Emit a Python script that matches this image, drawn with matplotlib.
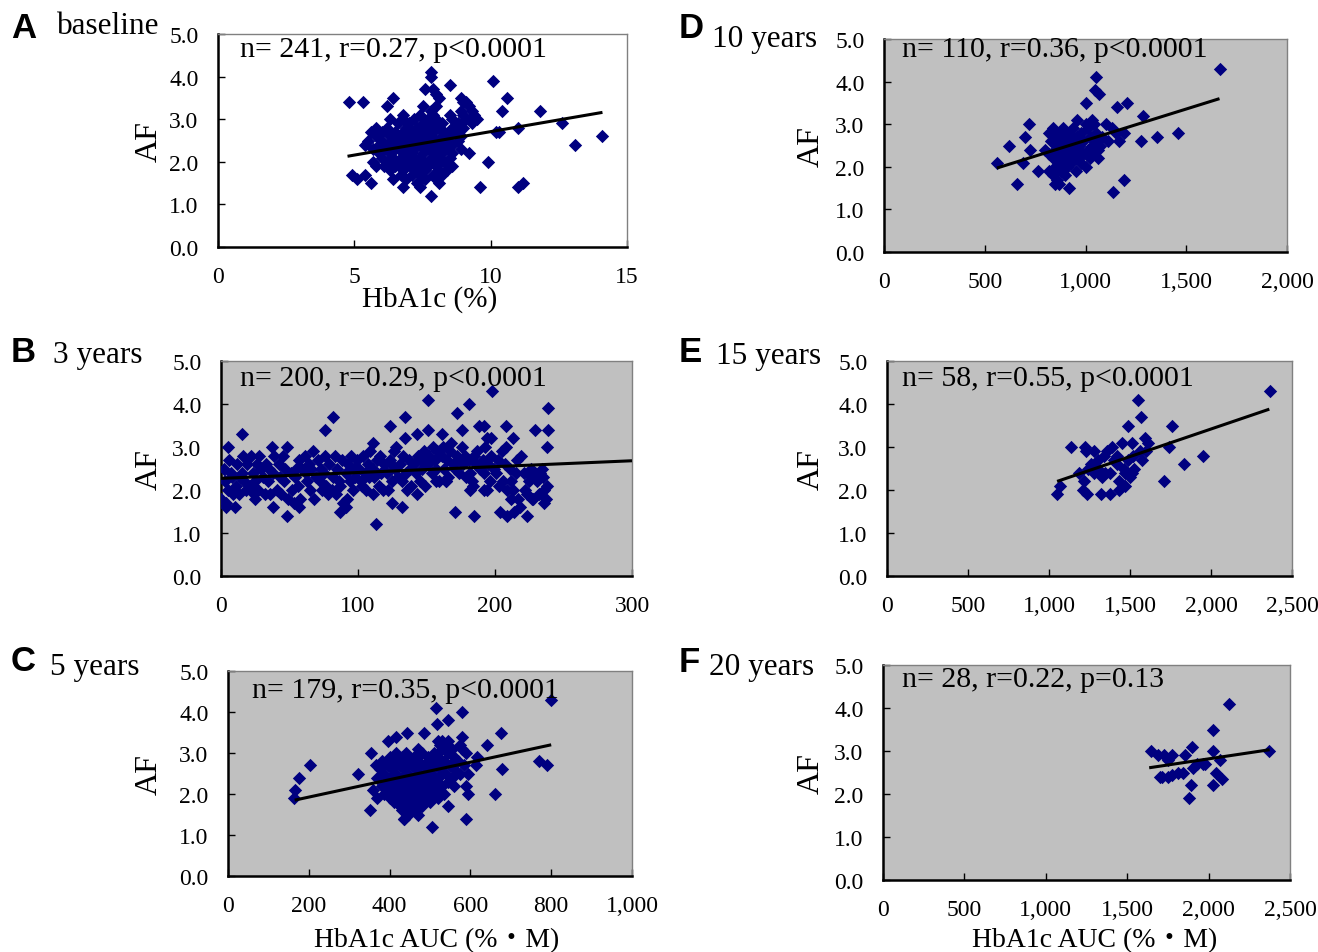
import matplotlib
matplotlib.use('Agg')
import matplotlib.pyplot as plt
from matplotlib.ticker import FuncFormatter, MultipleLocator

W, H = 1318, 953

# ---- A: baseline (HbA1c %, AF)
a_pts = [
    (7.8, 4.1), (7.8, 4.0), (10.1, 3.9), (8.5, 3.8), (7.6, 3.7), (7.9, 3.7), (8.0, 3.6),
    (6.4, 3.5), (8.1, 3.5), (8.9, 3.5), (10.6, 3.5),
    (4.8, 3.4), (5.3, 3.4), (9.0, 3.4), (9.1, 3.4),
    (6.2, 3.3), (7.5, 3.3), (8.0, 3.3), (9.2, 3.3),
    (7.8, 3.2), (8.9, 3.2), (10.4, 3.2), (11.8, 3.2), (9.3, 3.2),
    (6.8, 3.1), (7.4, 3.1), (8.5, 3.1), (9.4, 3.1), (9.0, 3.1), (7.9, 3.1),
    (6.3, 3.0), (6.8, 3.0), (7.2, 3.0), (7.7, 3.0), (8.0, 3.0), (8.6, 3.0), (9.5, 3.0), (9.1, 3.0),
    (6.6, 2.9), (7.0, 2.9), (7.5, 2.9), (8.2, 2.9), (8.8, 2.9), (9.3, 2.9), (12.6, 2.9), (7.9, 2.9),
    (5.8, 2.8), (6.2, 2.8), (6.9, 2.8), (7.3, 2.8), (7.7, 2.8), (8.1, 2.8), (8.6, 2.8), (9.0, 2.8),
    (11.0, 2.8), (7.0, 2.8),
    (5.6, 2.7), (6.0, 2.7), (6.5, 2.7), (7.1, 2.7), (7.6, 2.7), (7.9, 2.7), (8.3, 2.7), (8.7, 2.7),
    (10.2, 2.7), (10.3, 2.7), (6.8, 2.7),
    (5.8, 2.6), (6.3, 2.6), (6.7, 2.6), (7.0, 2.6), (7.4, 2.6), (7.8, 2.6), (8.2, 2.6), (8.5, 2.6),
    (8.9, 2.6), (14.1, 2.6), (7.2, 2.6),
    (5.5, 2.5), (6.0, 2.5), (6.4, 2.5), (6.9, 2.5), (7.3, 2.5), (7.7, 2.5), (8.0, 2.5), (8.4, 2.5),
    (8.8, 2.5), (6.6, 2.5), (7.5, 2.5),
    (5.4, 2.4), (5.9, 2.4), (6.2, 2.4), (6.6, 2.4), (7.0, 2.4), (7.4, 2.4), (7.8, 2.4), (8.1, 2.4),
    (8.6, 2.4), (13.1, 2.4), (7.2, 2.4),
    (5.7, 2.3), (6.1, 2.3), (6.5, 2.3), (6.9, 2.3), (7.2, 2.3), (7.6, 2.3), (8.0, 2.3), (8.3, 2.3),
    (8.9, 2.3), (6.7, 2.3),
    (5.9, 2.2), (6.3, 2.2), (6.8, 2.2), (7.1, 2.2), (7.5, 2.2), (7.9, 2.2), (8.2, 2.2), (8.6, 2.2),
    (9.2, 2.2), (7.0, 2.2),
    (6.0, 2.1), (6.4, 2.1), (6.7, 2.1), (7.0, 2.1), (7.4, 2.1), (7.8, 2.1), (8.1, 2.1), (8.5, 2.1), (7.2, 2.1),
    (5.7, 2.0), (6.2, 2.0), (6.6, 2.0), (7.1, 2.0), (7.5, 2.0), (7.9, 2.0), (8.3, 2.0), (9.9, 2.0), (6.9, 2.0),
    (5.8, 1.9), (6.1, 1.9), (6.5, 1.9), (6.9, 1.9), (7.3, 1.9), (7.7, 1.9), (8.0, 1.9), (8.6, 1.9),
    (6.3, 1.8), (6.8, 1.8), (7.2, 1.8), (7.6, 1.8), (8.1, 1.8), (8.4, 1.8),
    (4.9, 1.7), (5.4, 1.7), (6.7, 1.7), (7.1, 1.7), (7.4, 1.7), (7.9, 1.7), (8.2, 1.7),
    (5.1, 1.6), (6.4, 1.6), (6.9, 1.6), (7.6, 1.6), (8.0, 1.6),
    (5.6, 1.5), (7.3, 1.5), (8.1, 1.5), (11.2, 1.5),
    (6.8, 1.4), (7.4, 1.4), (9.6, 1.4), (11.0, 1.4),
    (7.8, 1.2),
]
a_fit_x = [4.75, 14.1]
a_fit_y = [2.13, 3.16]

# ---- B: 3 years
b_pts = [
    (151, 4.1), (198, 4.3), (181, 4.0), (239, 3.9), (172, 3.8), (82, 3.7), (134, 3.7),
    (76, 3.4), (123, 3.5), (151, 3.4), (176, 3.4), (188, 3.5), (192, 3.5), (208, 3.5),
    (229, 3.4), (239, 3.4), (15, 3.3), (143, 3.3), (161, 3.3), (213, 3.2), (194, 3.2),
    (134, 3.2), (238, 3.0), (5, 3.0), (111, 3.1), (168, 3.1), (197, 3.2),
    (113, 1.2), (48, 1.4), (185, 1.4), (223, 1.4), (209, 1.4), (171, 1.5), (87, 1.5),
    (204, 1.5), (214, 1.5), (132, 1.6), (10, 1.6), (4, 1.6), (38, 1.6), (57, 1.6), (91, 1.6),
    (125, 1.7), (236, 1.7), (227, 1.8), (212, 1.8), (111, 1.9), (143, 1.9), (192, 2.0),
    (182, 2.0), (238, 2.1), (157, 2.2), (164, 2.2), (25, 1.8),
    (0, 1.8), (2, 2.5), (3, 2.2), (5, 2.0), (6, 2.7), (8, 2.3), (9, 1.9), (4, 1.7), (7, 2.4),
    (11, 2.1), (12, 2.6), (13, 1.9), (15, 2.4), (16, 2.8), (17, 2.2), (18, 2.0), (19, 2.6), (14, 2.3),
    (21, 2.1), (22, 2.8), (23, 2.4), (25, 2.2), (26, 2.6), (27, 2.0), (28, 2.8), (29, 2.5), (24, 1.9),
    (31, 2.3), (32, 1.9), (33, 2.6), (34, 2.2), (35, 2.5), (36, 1.9), (37, 3.0), (38, 2.4), (39, 2.8),
    (41, 2.0), (42, 2.6), (43, 2.3), (44, 1.9), (45, 2.8), (46, 2.2), (47, 2.5), (48, 3.0), (49, 1.8),
    (51, 2.4), (52, 2.0), (53, 1.7), (54, 2.3), (55, 2.5), (56, 2.1), (57, 2.7), (58, 1.8), (59, 2.5),
    (61, 2.8), (62, 2.4), (63, 2.2), (64, 2.6), (65, 2.0), (66, 2.5), (67, 2.9), (68, 1.8), (69, 2.3),
    (71, 2.7), (72, 2.2), (73, 2.5), (74, 2.0), (75, 2.4), (76, 2.8), (77, 2.1), (78, 1.9), (79, 2.6),
    (81, 2.0), (82, 2.3), (83, 2.8), (84, 1.9), (85, 2.5), (86, 2.2), (88, 2.7), (89, 1.7), (87, 2.1),
    (91, 2.4), (92, 1.8), (93, 2.6), (94, 2.2), (95, 2.8), (96, 2.0), (97, 2.5), (98, 2.3), (99, 2.7),
    (101, 2.5), (102, 2.2), (104, 2.8), (105, 2.4), (106, 2.0), (107, 2.6), (108, 2.3), (109, 2.9), (103, 2.1),
    (111, 2.5), (112, 2.3), (114, 2.7), (115, 2.1), (116, 2.8), (117, 2.4), (118, 2.0), (119, 2.6),
    (121, 2.4), (122, 2.0), (123, 2.7), (125, 2.2), (126, 2.9), (127, 2.5), (128, 3.0), (129, 2.3), (124, 2.6),
    (131, 2.6), (132, 2.2), (133, 2.8), (135, 2.4), (136, 2.0), (137, 2.7), (138, 2.5), (139, 2.1),
    (141, 2.6), (142, 2.4), (144, 2.8), (145, 2.2), (146, 2.7), (147, 2.5), (148, 2.9), (149, 2.1),
    (151, 2.6), (152, 2.8), (154, 2.4), (155, 3.0), (156, 2.7), (157, 2.5), (158, 2.9), (159, 2.2),
    (161, 2.8), (162, 3.0), (163, 2.5), (165, 2.7), (166, 2.3), (167, 2.9), (169, 2.6), (164, 2.2),
    (171, 2.5), (172, 2.8), (174, 2.4), (175, 2.7), (176, 3.0), (177, 2.6), (178, 2.8), (179, 2.3),
    (181, 2.7), (182, 2.4), (183, 2.2), (185, 2.8), (186, 2.6), (187, 2.9), (189, 2.5), (184, 2.1),
    (191, 2.7), (192, 2.4), (193, 3.0), (195, 2.6), (196, 2.2), (197, 2.8), (199, 2.5), (194, 2.0),
    (201, 2.4), (202, 2.7), (203, 2.1), (205, 2.9), (206, 2.2), (207, 2.6), (209, 2.0), (208, 3.0),
    (211, 2.5), (212, 2.2), (213, 2.0), (215, 2.4), (216, 2.7), (217, 1.8), (219, 2.8), (218, 1.6),
    (221, 2.4), (222, 2.0), (223, 1.9), (225, 2.2), (226, 2.5), (227, 2.3), (228, 1.8), (229, 2.4),
    (231, 2.2), (232, 1.9), (233, 2.4), (235, 2.3), (236, 2.0), (237, 1.8), (234, 2.5),
]
b_fit_x = [0, 300]
b_fit_y = [2.27, 2.68]

# ---- C: 5 years (HbA1c AUC)
c_pts = [
    (800, 4.3), (516, 4.1), (580, 4.0), (544, 3.8), (518, 3.7), (444, 3.5), (484, 3.5),
    (675, 3.5), (417, 3.4), (396, 3.3), (578, 3.4), (642, 3.2), (354, 3.0), (203, 2.7),
    (367, 2.7), (321, 2.5), (175, 2.4), (167, 2.1), (164, 1.9), (771, 2.8), (790, 2.7),
    (679, 2.6), (615, 2.7), (594, 2.5), (590, 2.2), (594, 2.0), (660, 2.0), (544, 1.7),
    (352, 1.6), (590, 1.4), (505, 1.2), (435, 1.4), (617, 2.9),
    (520, 3.3), (530, 3.3), (545, 3.3), (525, 3.2), (540, 3.2), (575, 3.2),
    (470, 3.1), (530, 3.1), (580, 3.1), (555, 3.1),
    (415, 3.0), (440, 3.0), (480, 3.0), (510, 3.0), (545, 3.0), (590, 3.0),
    (400, 2.9), (430, 2.9), (460, 2.9), (495, 2.9), (520, 2.9), (560, 2.9),
    (380, 2.8), (410, 2.8), (445, 2.8), (470, 2.8), (500, 2.8), (535, 2.8), (570, 2.8),
    (395, 2.7), (425, 2.7), (455, 2.7), (485, 2.7), (515, 2.7), (550, 2.7), (585, 2.7),
    (375, 2.6), (405, 2.6), (435, 2.6), (465, 2.6), (495, 2.6), (525, 2.6), (560, 2.6),
    (385, 2.5), (415, 2.5), (445, 2.5), (475, 2.5), (505, 2.5), (540, 2.5), (575, 2.5),
    (370, 2.4), (400, 2.4), (430, 2.4), (460, 2.4), (490, 2.4), (520, 2.4), (555, 2.4),
    (390, 2.3), (420, 2.3), (450, 2.3), (480, 2.3), (510, 2.3), (545, 2.3),
    (380, 2.2), (410, 2.2), (440, 2.2), (470, 2.2), (500, 2.2), (530, 2.2), (560, 2.2),
    (360, 2.1), (395, 2.1), (425, 2.1), (455, 2.1), (485, 2.1), (515, 2.1),
    (385, 2.0), (415, 2.0), (445, 2.0), (475, 2.0), (505, 2.0), (535, 2.0),
    (370, 1.9), (400, 1.9), (430, 1.9), (460, 1.9), (490, 1.9), (520, 1.9),
    (410, 1.8), (440, 1.8), (470, 1.8), (500, 1.8),
    (425, 1.7), (455, 1.7), (480, 1.7),
    (430, 1.6), (450, 1.6), (465, 1.6),
    (445, 1.5), (470, 1.5), (435, 1.4),
]
c_fit_x = [165, 800]
c_fit_y = [1.85, 3.2]

# ---- D: 10 years
d_pts = [
    (1668, 4.3), (1053, 4.1), (1047, 3.8), (1067, 3.7), (1001, 3.5), (1208, 3.5), (1154, 3.4),
    (1285, 3.2), (721, 3.0), (1461, 2.8), (1353, 2.7), (1275, 2.6), (700, 2.7), (622, 2.5),
    (727, 2.4), (560, 2.1), (690, 2.1), (660, 1.6), (763, 1.9), (918, 1.5), (1136, 1.4),
    (1192, 1.7), (953, 1.9), (1167, 2.6), (1192, 2.8),
    (960, 3.1), (1030, 3.1), (1000, 3.0), (1040, 3.0), (1100, 3.0),
    (840, 2.9), (890, 2.9), (940, 2.9), (1010, 2.9), (1130, 2.9),
    (820, 2.8), (870, 2.8), (920, 2.8), (980, 2.8), (1050, 2.8), (1150, 2.8),
    (850, 2.7), (900, 2.7), (960, 2.7), (1020, 2.7), (1080, 2.7),
    (830, 2.6), (880, 2.6), (930, 2.6), (990, 2.6), (1050, 2.6), (1110, 2.6),
    (860, 2.5), (910, 2.5), (970, 2.5), (1030, 2.5), (1070, 2.5),
    (800, 2.4), (850, 2.4), (900, 2.4), (950, 2.4), (1010, 2.4), (1060, 2.4),
    (820, 2.3), (880, 2.3), (940, 2.3), (990, 2.3), (1040, 2.3),
    (840, 2.2), (900, 2.2), (960, 2.2), (1020, 2.2), (1060, 2.2),
    (870, 2.1), (930, 2.1), (980, 2.1),
    (850, 2.0), (910, 2.0), (1000, 2.0),
    (820, 1.9), (880, 1.9), (840, 1.8), (900, 1.8), (860, 1.7), (850, 1.6), (870, 1.6),
]
d_fit_x = [560, 1665]
d_fit_y = [1.97, 3.6]

# ---- E: 15 years
e_pts = [
    (2365, 4.3), (1551, 4.1), (1570, 3.7), (1486, 3.5), (1759, 3.5), (1590, 3.2), (1610, 3.1),
    (1136, 3.0), (1222, 3.0), (1279, 2.9), (1388, 3.0), (1453, 3.1), (1512, 3.1), (1741, 3.0),
    (1227, 2.9), (1357, 2.9), (1422, 2.8), (1601, 2.9), (1949, 2.8), (1305, 2.7), (1486, 2.7),
    (1577, 2.7), (1832, 2.6), (1422, 2.6), (1240, 2.5), (1461, 2.5), (1525, 2.5), (1188, 2.4),
    (1279, 2.4), (1344, 2.4), (1378, 2.4), (1512, 2.4), (1499, 2.3), (1214, 2.2), (1435, 2.2),
    (1712, 2.2), (1065, 2.1), (1209, 2.0), (1435, 2.0), (1050, 1.9), (1235, 1.9), (1318, 1.9),
    (1378, 1.9), (1468, 2.1),
    (1260, 2.6), (1300, 2.5), (1340, 2.8), (1400, 2.7), (1520, 2.8), (1560, 2.9), (1330, 2.3),
    (1470, 2.4),
]
e_fit_x = [1050, 2360]
e_fit_y = [2.2, 3.88]

# ---- F: 20 years
f_pts = [
    (2124, 4.1), (2025, 3.5), (1896, 3.1), (2025, 3.0), (2373, 3.0), (1645, 3.0), (1688, 2.9),
    (1726, 2.9), (1777, 2.9), (1853, 2.9), (2068, 2.8), (1751, 2.8), (1980, 2.7), (1929, 2.7),
    (1904, 2.6), (2043, 2.5), (1815, 2.5), (1777, 2.45), (1713, 2.4), (1751, 2.4), (2081, 2.35),
    (1891, 2.2), (2025, 2.2), (1878, 1.9), (1700, 2.4), (1840, 2.5), (1967, 2.7),
]
f_fit_x = [1635, 2375]
f_fit_y = [2.61, 3.03]

plt.rcParams['font.family'] = ['Liberation Serif', 'DejaVu Serif']

fig = plt.figure(figsize=(W / 100, H / 100), dpi=100)


def fx(px):
    return px / W


def fy(py):
    return 1 - py / H


def panel(box, pts, fit_x, fit_y, xmax, xstep, note, note_xy, bg, comma, ylab_x):
    left, right, top, bottom = box
    ax = fig.add_axes([fx(left), fy(bottom), (right - left) / W, (bottom - top) / H])
    ax.set_facecolor(bg)
    xs = [p[0] for p in pts]
    ys = [p[1] for p in pts]
    ax.scatter(xs, ys, marker='D', s=46, color='#000080', linewidths=0, zorder=3)
    ax.plot(fit_x, fit_y, color='black', lw=2.2, zorder=4, solid_capstyle='butt')
    ax.set_xlim(0, xmax)
    ax.set_ylim(0, 5)
    ax.xaxis.set_major_locator(MultipleLocator(xstep))
    ax.yaxis.set_major_locator(MultipleLocator(1))
    ax.yaxis.set_major_formatter(FuncFormatter(lambda v, p: f'{v:.1f}'))
    if comma:
        ax.xaxis.set_major_formatter(FuncFormatter(lambda v, p: f'{int(round(v)):,}'))
    else:
        ax.xaxis.set_major_formatter(FuncFormatter(lambda v, p: f'{int(round(v))}'))
    ax.tick_params(direction='in', length=5, width=1, labelsize=17, pad=14, colors='black')
    for s in ['left', 'bottom']:
        ax.spines[s].set_color('black')
        ax.spines[s].set_linewidth(1.8)
    for s in ['top', 'right']:
        ax.spines[s].set_color('#808080')
        ax.spines[s].set_linewidth(1.0)
    fig.text(fx(note_xy[0]), fy(note_xy[1]), note, fontsize=21.5, va='center', ha='left')
    ax.set_ylabel('AF', fontsize=23)
    ax.yaxis.set_label_coords((ylab_x - left) / (right - left), 0.5)
    return ax


gray = '#c0c0c0'
axA = panel((218, 627, 35, 248), a_pts, a_fit_x, a_fit_y, 15, 5,
            'n= 241, r=0.27, p<0.0001', (240, 50), 'white', False, 164)
axB = panel((221, 632, 362, 577), b_pts, b_fit_x, b_fit_y, 300, 100,
            'n= 200, r=0.29, p<0.0001', (240, 379), gray, False, 164)
axC = panel((228, 632, 672, 877), c_pts, c_fit_x, c_fit_y, 1000, 200,
            'n= 179, r=0.35, p<0.0001', (252, 691), gray, True, 164)
axD = panel((884, 1287, 40, 253), d_pts, d_fit_x, d_fit_y, 2000, 500,
            'n= 110, r=0.36, p<0.0001', (902, 50), gray, True, 826)
axE = panel((887, 1292, 362, 577), e_pts, e_fit_x, e_fit_y, 2500, 500,
            'n= 58, r=0.55, p<0.0001', (902, 379), gray, True, 826)
axF = panel((883, 1290, 666, 881), f_pts, f_fit_x, f_fit_y, 2500, 500,
            'n= 28, r=0.22, p=0.13', (902, 680), gray, True, 826)

# x-axis titles
fig.text(fx(430), fy(300), 'HbA1c (%)', fontsize=21, ha='center', va='center')
auc_label = 'HbA1c AUC (%\u30fbM)'
fig.text(fx(437), fy(941), auc_label, fontsize=20, ha='center', va='center',
         family=['Liberation Serif', 'Noto Sans CJK JP'])
fig.text(fx(1095), fy(941), auc_label, fontsize=20, ha='center', va='center',
         family=['Liberation Serif', 'Noto Sans CJK JP'])

# panel letters and time points
letters = ['A', 'B', 'C', 'D', 'E', 'F']
letter_xy = [(11, 28), (11, 352), (11, 662), (679, 28), (679, 353), (679, 663)]
times = ['baseline', '3 years', '5 years', '10 years', '15 years', '20 years']
time_xy = [(57, 27), (53, 356), (50, 668), (712, 40), (716, 357), (709, 668)]
for lt, lxy, tt, txy in zip(letters, letter_xy, times, time_xy):
    fig.text(fx(lxy[0]), fy(lxy[1]), lt, fontsize=25, fontweight='bold',
             family='Liberation Sans', ha='left', va='center')
    fig.text(fx(txy[0]), fy(txy[1]), tt, fontsize=22.5, ha='left', va='center')

fig.savefig('out.png', dpi=100)
